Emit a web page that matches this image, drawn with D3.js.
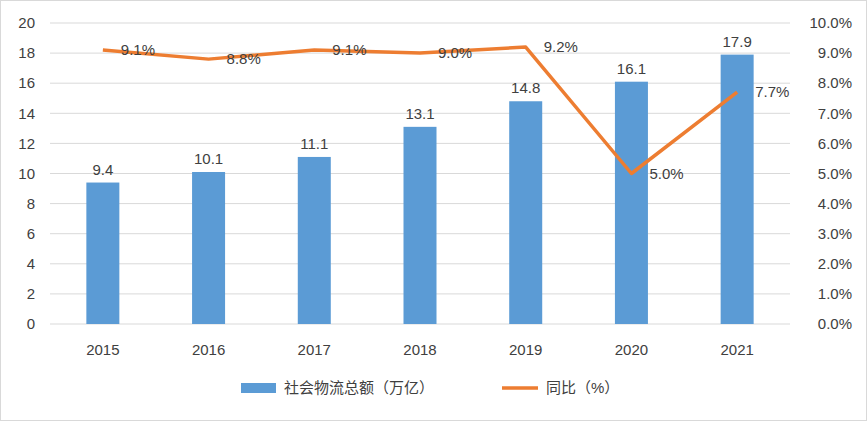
<!DOCTYPE html>
<html><head><meta charset="utf-8">
<script src="https://cdn.jsdelivr.net/npm/d3@7"></script>
<style>body{margin:0;background:#fff}text{font-family:"Liberation Sans","Noto Sans CJK SC",sans-serif;fill:#404040}</style>
</head><body>
<svg id="c" width="867" height="421"></svg>
<script>
// data
var years = ["2015","2016","2017","2018","2019","2020","2021"];
var totals = [9.4, 10.1, 11.1, 13.1, 14.8, 16.1, 17.9];
var growth = [9.1, 8.8, 9.1, 9.0, 9.2, 5.0, 7.7];
var leftTicks = [0, 2, 4, 6, 8, 10, 12, 14, 16, 18, 20];
var rightTicks = [0, 1, 2, 3, 4, 5, 6, 7, 8, 9, 10];

var svg = d3.select("#c");
var plotL = 50, plotR = 790, plotT = 23, plotB = 324;
var blue = "#5b9bd5", orange = "#ed7d31";

svg.append("rect").attr("x", 0.5).attr("y", 0.5).attr("width", 866).attr("height", 420)
    .attr("fill", "white").attr("stroke", "#d9d9d9");

var x = d3.scaleBand().domain(years).range([plotL, plotR]);
var y = d3.scaleLinear().domain([0, 20]).range([plotB, plotT]);
var y2 = d3.scaleLinear().domain([0, 10]).range([plotB, plotT]);

svg.append("g").selectAll("line").data(leftTicks).enter().append("line")
    .attr("x1", plotL).attr("x2", plotR)
    .attr("y1", d => y(d)).attr("y2", d => y(d))
    .attr("stroke", "#d9d9d9");

svg.append("g").selectAll("text").data(leftTicks).enter().append("text")
    .attr("x", 35).attr("y", d => y(d)).attr("dy", "0.35em")
    .attr("text-anchor", "end").attr("font-size", 15).text(d => d);

svg.append("g").selectAll("text").data(rightTicks).enter().append("text")
    .attr("x", 852).attr("y", d => y2(d)).attr("dy", "0.35em")
    .attr("text-anchor", "end").attr("font-size", 15).text(d => d.toFixed(1) + "%");

svg.append("g").selectAll("text").data(years).enter().append("text")
    .attr("x", d => x(d) + x.bandwidth() / 2).attr("y", 355)
    .attr("text-anchor", "middle").attr("font-size", 15).text(d => d);

var barW = 33;
svg.append("g").selectAll("rect").data(totals).enter().append("rect")
    .attr("x", (d, i) => x(years[i]) + x.bandwidth() / 2 - barW / 2)
    .attr("y", d => y(d)).attr("width", barW)
    .attr("height", d => plotB - y(d)).attr("fill", blue);

svg.append("g").selectAll("text").data(totals).enter().append("text")
    .attr("x", (d, i) => x(years[i]) + x.bandwidth() / 2)
    .attr("y", d => y(d) - 8).attr("text-anchor", "middle")
    .attr("font-size", 15).text(d => d.toFixed(1));

var line = d3.line()
    .x((d, i) => x(years[i]) + x.bandwidth() / 2)
    .y(d => y2(d));
svg.append("path").datum(growth).attr("d", line)
    .attr("fill", "none").attr("stroke", orange).attr("stroke-width", 3.5)
    .attr("stroke-linejoin", "round");

svg.append("g").selectAll("text").data(growth).enter().append("text")
    .attr("x", (d, i) => x(years[i]) + x.bandwidth() / 2 + 18)
    .attr("y", d => y2(d)).attr("dy", "0.35em")
    .attr("font-size", 15).text(d => d.toFixed(1) + "%");

// legend
var lg = svg.append("g").attr("transform", "translate(0,388)");
lg.append("rect").attr("x", 241).attr("y", -5).attr("width", 35).attr("height", 10).attr("fill", blue);
lg.append("text").attr("x", 284).attr("dy", "0.35em").attr("font-size", 15).text("社会物流总额（万亿）");
lg.append("line").attr("x1", 502).attr("x2", 538).attr("stroke", orange).attr("stroke-width", 3.5);
lg.append("text").attr("x", 546).attr("dy", "0.35em").attr("font-size", 15).text("同比（%）");
</script>
</body></html>
